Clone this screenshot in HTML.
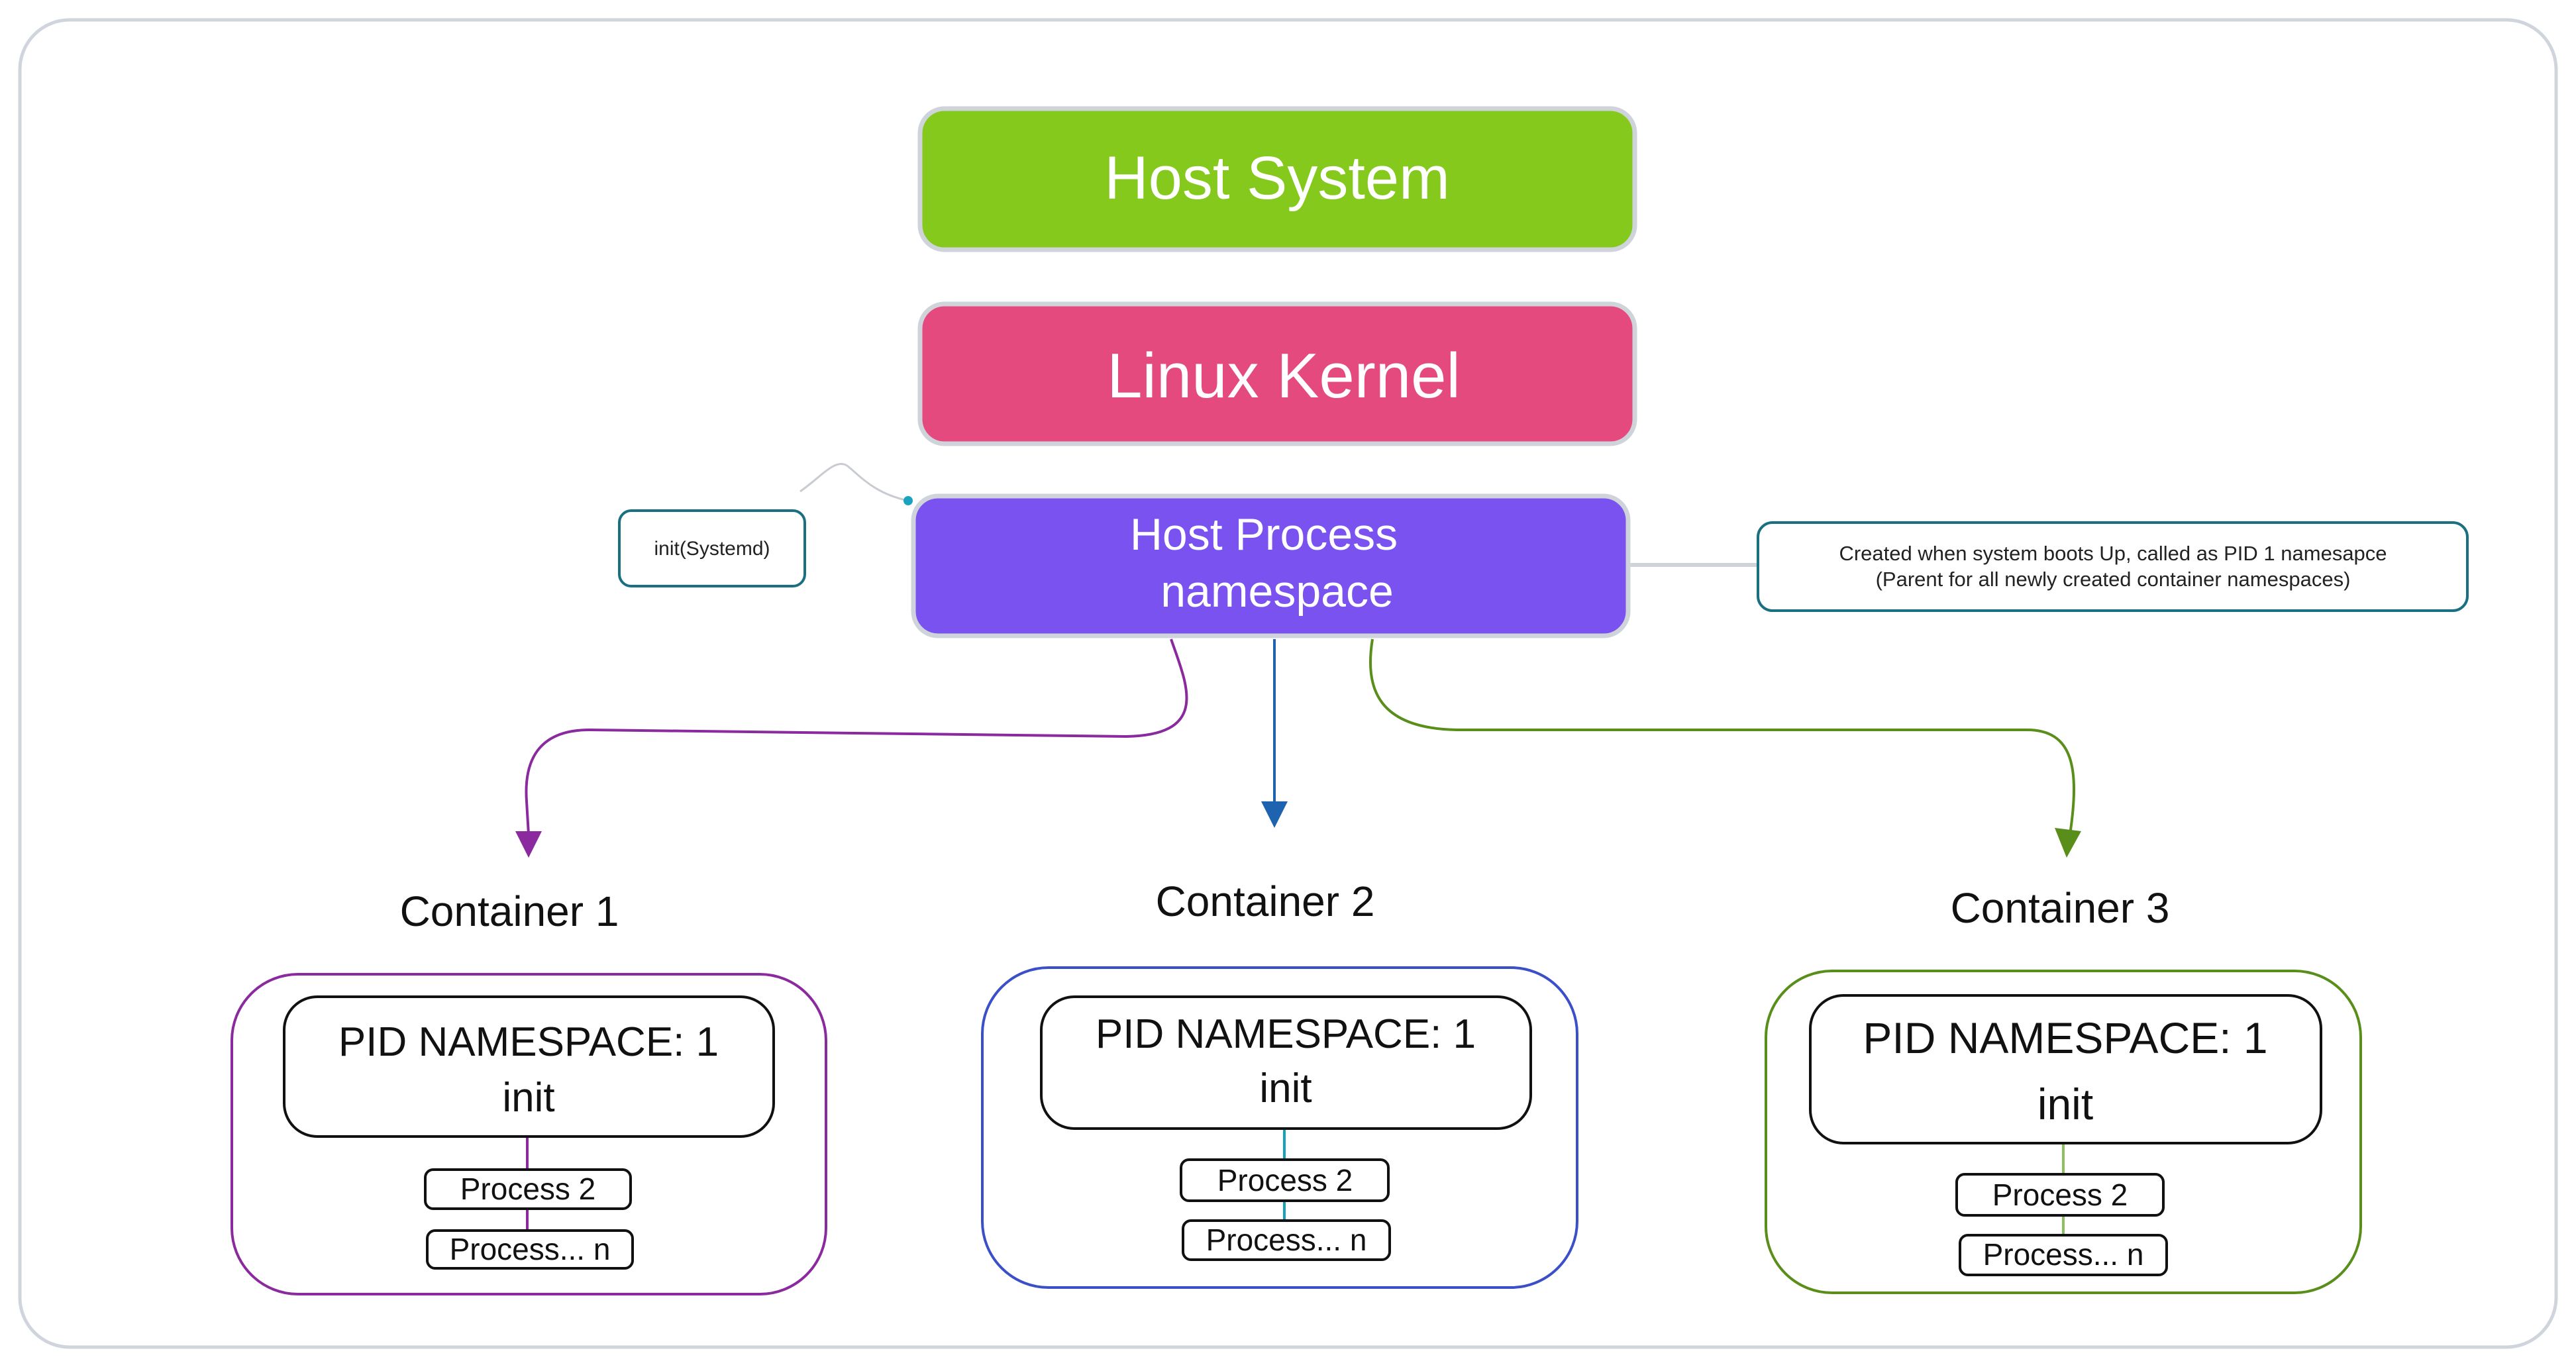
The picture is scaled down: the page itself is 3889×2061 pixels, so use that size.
<!DOCTYPE html>
<html><head><meta charset="utf-8"><style>
html,body{margin:0;padding:0;background:#fff;}
svg{display:block;}
text{font-family:"Liberation Sans",sans-serif;}
</style></head><body>
<svg width="3889" height="2061" viewBox="0 0 3889 2061" xmlns="http://www.w3.org/2000/svg">
<rect x="30" y="30" width="3829" height="2004" rx="75" fill="#fff" stroke="#d0d5dc" stroke-width="5"/>

<!-- Host System -->
<rect x="1389" y="164" width="1079" height="213" rx="37" fill="#84c91c" stroke="#cfd4da" stroke-width="7"/>
<text x="1928" y="300" font-size="92" fill="#fff" text-anchor="middle">Host System</text>
<!-- Linux Kernel -->
<rect x="1389" y="459" width="1079" height="211" rx="37" fill="#e54a7f" stroke="#cfd4da" stroke-width="7"/>
<text x="1938" y="600" font-size="96" fill="#fff" text-anchor="middle">Linux Kernel</text>
<!-- Host Process -->
<rect x="1379" y="749" width="1079" height="211" rx="37" fill="#7a52f0" stroke="#cfd4da" stroke-width="7"/>
<text x="1908" y="830" font-size="68" fill="#fff" text-anchor="middle">Host Process</text>
<text x="1928" y="916" font-size="68" fill="#fff" text-anchor="middle">namespace</text>

<!-- init box -->
<path d="M1208,742 C1240,720 1262,690 1280,704 C1300,720 1320,745 1371,756" fill="none" stroke="#c8ccd2" stroke-width="3"/>
<circle cx="1371" cy="756" r="7" fill="#1aa3c0"/>
<rect x="935" y="771" width="280" height="114" rx="18" fill="#fff" stroke="#1a6f80" stroke-width="4"/>
<text x="1075" y="838" font-size="30" fill="#222" text-anchor="middle">init(Systemd)</text>

<!-- note -->
<line x1="2458" y1="853" x2="2654" y2="853" stroke="#cfd4da" stroke-width="6"/>
<rect x="2654" y="789" width="1071" height="133" rx="22" fill="#fff" stroke="#1a6f80" stroke-width="4"/>
<text x="3190" y="846" font-size="31" fill="#222" text-anchor="middle">Created when system boots Up, called as PID 1 namesapce</text>
<text x="3190" y="885" font-size="31" fill="#222" text-anchor="middle">(Parent for all newly created container namespaces)</text>

<!-- arrows -->
<path d="M1768,965 C1790,1030 1830,1110 1700,1112 L890,1102 C820,1102 790,1140 795,1210 L798,1260" fill="none" stroke="#8a2a9e" stroke-width="4"/>
<polygon points="778,1255 818,1255 798,1295" fill="#8a2a9e"/>
<line x1="1924" y1="965" x2="1924" y2="1215" stroke="#1e63b0" stroke-width="4"/>
<polygon points="1904,1210 1944,1210 1924,1250" fill="#1e63b0"/>
<path d="M2072,965 C2060,1040 2080,1100 2200,1102 L3060,1102 C3130,1102 3140,1160 3125,1260" fill="none" stroke="#5a8e1a" stroke-width="4"/>
<polygon points="3102,1250 3142,1255 3120,1295" fill="#5a8e1a"/>

<!-- container labels -->
<text x="769" y="1398" font-size="64" fill="#111" text-anchor="middle">Container 1</text>
<text x="1910" y="1383" font-size="64" fill="#111" text-anchor="middle">Container 2</text>
<text x="3110" y="1393" font-size="64" fill="#111" text-anchor="middle">Container 3</text>

<!-- C1 -->
<rect x="350" y="1471" width="897" height="483" rx="100" fill="#fff" stroke="#8a2a9e" stroke-width="4"/>
<line x1="796" y1="1716" x2="796" y2="1858" stroke="#8a2a9e" stroke-width="4"/>
<rect x="429" y="1505" width="739" height="211" rx="50" fill="#fff" stroke="#111" stroke-width="4"/>
<text x="798" y="1594" font-size="62" fill="#111" text-anchor="middle">PID NAMESPACE: 1</text>
<text x="798" y="1678" font-size="62" fill="#111" text-anchor="middle">init</text>
<rect x="642" y="1766" width="310" height="59" rx="12" fill="#fff" stroke="#111" stroke-width="4"/>
<text x="797" y="1811" font-size="46" fill="#111" text-anchor="middle">Process 2</text>
<rect x="645" y="1858" width="310" height="57" rx="12" fill="#fff" stroke="#111" stroke-width="4"/>
<text x="800" y="1902" font-size="46" fill="#111" text-anchor="middle">Process... n</text>

<!-- C2 -->
<rect x="1483" y="1461" width="898" height="483" rx="100" fill="#fff" stroke="#3a4fc8" stroke-width="4"/>
<line x1="1939" y1="1704" x2="1939" y2="1843" stroke="#17a2b8" stroke-width="4"/>
<rect x="1572" y="1505" width="739" height="199" rx="50" fill="#fff" stroke="#111" stroke-width="4"/>
<text x="1941" y="1582" font-size="62" fill="#111" text-anchor="middle">PID NAMESPACE: 1</text>
<text x="1941" y="1664" font-size="62" fill="#111" text-anchor="middle">init</text>
<rect x="1783" y="1751" width="313" height="62" rx="12" fill="#fff" stroke="#111" stroke-width="4"/>
<text x="1940" y="1798" font-size="46" fill="#111" text-anchor="middle">Process 2</text>
<rect x="1786" y="1843" width="312" height="59" rx="12" fill="#fff" stroke="#111" stroke-width="4"/>
<text x="1942" y="1888" font-size="46" fill="#111" text-anchor="middle">Process... n</text>

<!-- C3 -->
<rect x="2666" y="1466" width="898" height="486" rx="100" fill="#fff" stroke="#5a8e1a" stroke-width="4"/>
<line x1="3115" y1="1726" x2="3115" y2="1865" stroke="#8cc060" stroke-width="4"/>
<rect x="2733" y="1503" width="771" height="223" rx="50" fill="#fff" stroke="#111" stroke-width="4"/>
<text x="3118" y="1590" font-size="66" fill="#111" text-anchor="middle">PID NAMESPACE: 1</text>
<text x="3118" y="1690" font-size="66" fill="#111" text-anchor="middle">init</text>
<rect x="2954" y="1773" width="312" height="62" rx="12" fill="#fff" stroke="#111" stroke-width="4"/>
<text x="3110" y="1820" font-size="46" fill="#111" text-anchor="middle">Process 2</text>
<rect x="2959" y="1865" width="312" height="60" rx="12" fill="#fff" stroke="#111" stroke-width="4"/>
<text x="3115" y="1910" font-size="46" fill="#111" text-anchor="middle">Process... n</text>
</svg>
</body></html>
